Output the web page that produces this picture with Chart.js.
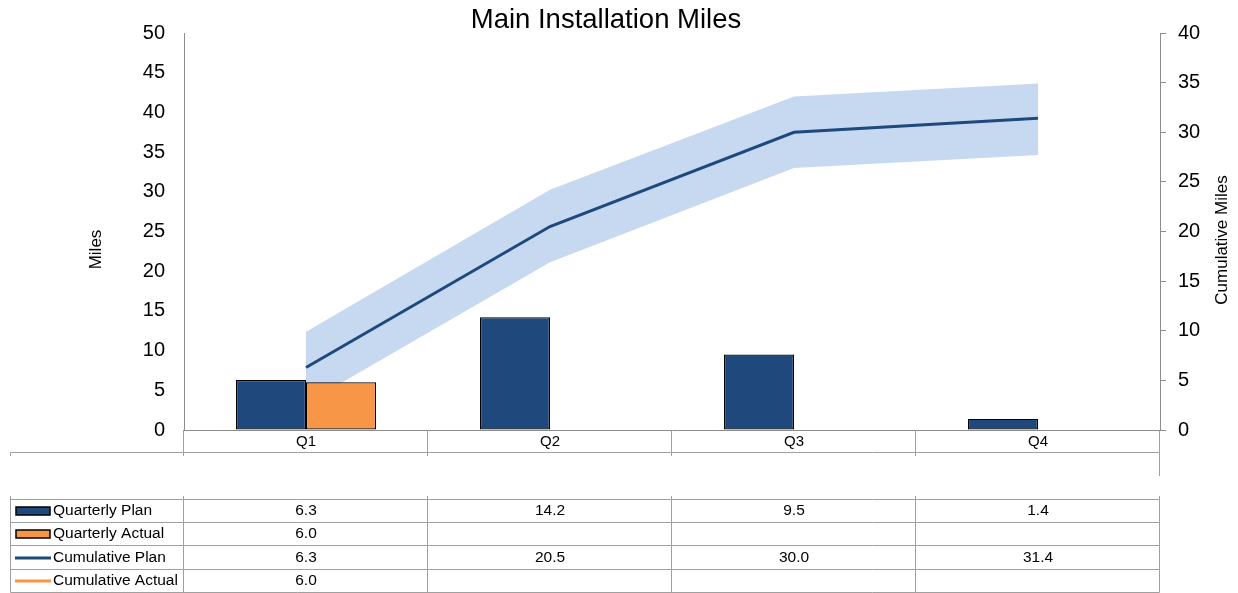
<!DOCTYPE html>
<html><head><meta charset="utf-8">
<script src="https://cdn.jsdelivr.net/npm/chart.js@4.4.0/dist/chart.umd.min.js"></script>
<style>html,body{margin:0;padding:0;background:#fff;overflow:hidden}</style>
</head><body>
<canvas id="c" width="1238" height="593"></canvas>
<script>
const categories = ['Q1', 'Q2', 'Q3', 'Q4'];
const quarterlyPlan = [6.3, 14.2, 9.5, 1.4];
const quarterlyActual = [6.0, null, null, null];
const cumulativePlan = [6.3, 20.5, 30.0, 31.4];
const cumulativeActual = [6.0, null, null, null];
const bandUpper = [9.9, 24.2, 33.6, 34.9];
const bandLower = [2.7, 16.9, 26.4, 27.7];
const leftTicks = [0, 5, 10, 15, 20, 25, 30, 35, 40, 45, 50];
const rightTicks = [0, 5, 10, 15, 20, 25, 30, 35, 40];

const NAVY = '#1F497D';
const ORANGE = '#F79646';
const BAND = '#C6D9F1';
const AXIS = '#8C8C8C';
const TABLE = '#A0A0A0';
const FONT = "'Liberation Sans', Arial, sans-serif";

const tableRows = [
  { label: 'Quarterly Plan', values: quarterlyPlan, kind: 'bar', color: NAVY },
  { label: 'Quarterly Actual', values: quarterlyActual, kind: 'bar', color: ORANGE },
  { label: 'Cumulative Plan', values: cumulativePlan, kind: 'line', color: NAVY },
  { label: 'Cumulative Actual', values: cumulativeActual, kind: 'line', color: ORANGE }
];

const decorPlugin = {
  id: 'decor',
  afterDraw(chart) {
    const ctx = chart.ctx;
    const ca = chart.chartArea;
    const xs = chart.scales.x;
    const n = categories.length;
    const w = (ca.right - ca.left) / n;
    const px = v => Math.round(v) - 0.5;
    const bounds = [];
    for (let i = 0; i < n; i++) bounds.push(px(xs.getPixelForValue(i) - w / 2));
    bounds.push(px(xs.getPixelForValue(n - 1) + w / 2));
    const tableLeft = 10.5;
    const tableRight = bounds[n];

    ctx.save();
    // title
    ctx.fillStyle = '#000';
    ctx.font = '27.5px ' + FONT;
    ctx.textAlign = 'center';
    ctx.textBaseline = 'alphabetic';
    ctx.fillText('Main Installation Miles', 606, 28);

    // axis titles
    ctx.font = '17px ' + FONT;
    ctx.textBaseline = 'middle';
    ctx.save();
    ctx.translate(96, 249.5);
    ctx.rotate(-Math.PI / 2);
    ctx.fillText('Miles', 0, 0);
    ctx.restore();
    ctx.save();
    ctx.translate(1222.5, 240);
    ctx.rotate(-Math.PI / 2);
    ctx.fillText('Cumulative Miles', 0, 0);
    ctx.restore();

    // table lines
    ctx.strokeStyle = TABLE;
    ctx.lineWidth = 1;
    const line = (x1, y1, x2, y2) => { ctx.beginPath(); ctx.moveTo(x1, y1); ctx.lineTo(x2, y2); ctx.stroke(); };
    const axisY = ca.bottom;
    for (let i = 0; i < n; i++) line(bounds[i], axisY, bounds[i], axisY + 26);
    line(tableRight, axisY, tableRight, axisY + 46);
    line(tableLeft, 452.5, tableRight, 452.5);
    line(tableLeft, 452.5, tableLeft, 456);

    const top = 498.5, rowH = 23.45;
    const nr = tableRows.length;
    for (let r = 0; r <= nr; r++) {
      const y = Math.round(top + r * rowH) + 0.5;
      line(tableLeft, y, tableRight, y);
    }
    const bottomY = Math.round(top + nr * rowH) + 0.5;
    line(tableLeft, 496, tableLeft, bottomY);
    for (let i = 0; i <= n; i++) line(bounds[i], 496, bounds[i], bottomY);

    ctx.font = '15.5px ' + FONT;
    ctx.textBaseline = 'middle';
    tableRows.forEach((row, r) => {
      const cy = top + r * rowH + rowH / 2 + 0.5;
      if (row.kind === 'bar') {
        ctx.fillStyle = row.color;
        ctx.fillRect(16, Math.round(cy) - 4, 34, 8);
        ctx.strokeStyle = '#000';
        ctx.lineWidth = 1.5;
        ctx.strokeRect(16, Math.round(cy) - 4, 34, 8);
      } else {
        ctx.strokeStyle = row.color;
        ctx.lineWidth = 3;
        ctx.beginPath(); ctx.moveTo(15, Math.round(cy)); ctx.lineTo(51, Math.round(cy)); ctx.stroke();
      }
      ctx.fillStyle = '#000';
      ctx.textAlign = 'left';
      ctx.fillText(row.label, 53, cy);
      ctx.textAlign = 'center';
      row.values.forEach((v, i) => {
        if (v === null || v === undefined) return;
        ctx.fillText(v.toFixed(1), xs.getPixelForValue(i), cy);
      });
    });
    ctx.restore();
  }
};

new Chart(document.getElementById('c'), {
  data: {
    labels: categories,
    datasets: [
      { type: 'line', label: 'Band Lower', data: bandLower, yAxisID: 'y2', borderWidth: 0, borderColor: 'rgba(0,0,0,0)', pointRadius: 0, fill: false, order: 3 },
      { type: 'line', label: 'Band Upper', data: bandUpper, yAxisID: 'y2', borderWidth: 0, borderColor: 'rgba(0,0,0,0)', backgroundColor: BAND, pointRadius: 0, fill: '-1', order: 3 },
      { type: 'bar', label: 'Quarterly Plan', data: quarterlyPlan, yAxisID: 'y', backgroundColor: NAVY, borderColor: '#000', borderWidth: 1.2, borderSkipped: false, order: 2 },
      { type: 'bar', label: 'Quarterly Actual', data: quarterlyActual, yAxisID: 'y', backgroundColor: ORANGE, borderColor: '#000', borderWidth: 1.2, borderSkipped: false, order: 2 },
      { type: 'line', label: 'Cumulative Plan', data: cumulativePlan, yAxisID: 'y2', borderColor: NAVY, borderWidth: 3, pointRadius: 0, fill: false, order: 1 },
      { type: 'line', label: 'Cumulative Actual', data: cumulativeActual, yAxisID: 'y2', borderColor: ORANGE, borderWidth: 3, pointRadius: 0, fill: false, order: 1 }
    ]
  },
  options: {
    responsive: false,
    animation: false,
    devicePixelRatio: 1,
    layout: { padding: { top: 33, left: 0, right: 0, bottom: 0 } },
    datasets: { bar: { categoryPercentage: 0.574, barPercentage: 1.0 } },
    plugins: { legend: { display: false }, title: { display: false }, tooltip: { enabled: false } },
    scales: {
      x: {
        type: 'category',
        offset: true,
        grid: { display: true, drawOnChartArea: false, drawTicks: false },
        border: { display: true, color: AXIS, width: 1 },
        ticks: { color: '#000', font: { family: FONT, size: 15 }, padding: 3, maxRotation: 0 },
        afterFit(scale) { scale.height = 163; }
      },
      y: {
        position: 'left',
        min: 0, max: 50,
        afterBuildTicks(scale) { scale.ticks = leftTicks.map(v => ({ value: v })); },
        grid: { display: true, drawOnChartArea: false, drawTicks: false },
        border: { display: true, color: AXIS, width: 1 },
        ticks: { color: '#000', font: { family: FONT, size: 20 }, padding: 19 },
        afterFit(scale) { scale.width = 184; }
      },
      y2: {
        position: 'right',
        min: 0, max: 40,
        afterBuildTicks(scale) { scale.ticks = rightTicks.map(v => ({ value: v })); },
        grid: { display: true, drawOnChartArea: false, drawTicks: true, tickLength: 6, color: AXIS },
        border: { display: true, color: AXIS, width: 1 },
        ticks: { color: '#000', font: { family: FONT, size: 20 }, padding: 12 },
        afterFit(scale) { scale.width = 78; }
      }
    }
  },
  plugins: [decorPlugin]
});
</script>
</body></html>
